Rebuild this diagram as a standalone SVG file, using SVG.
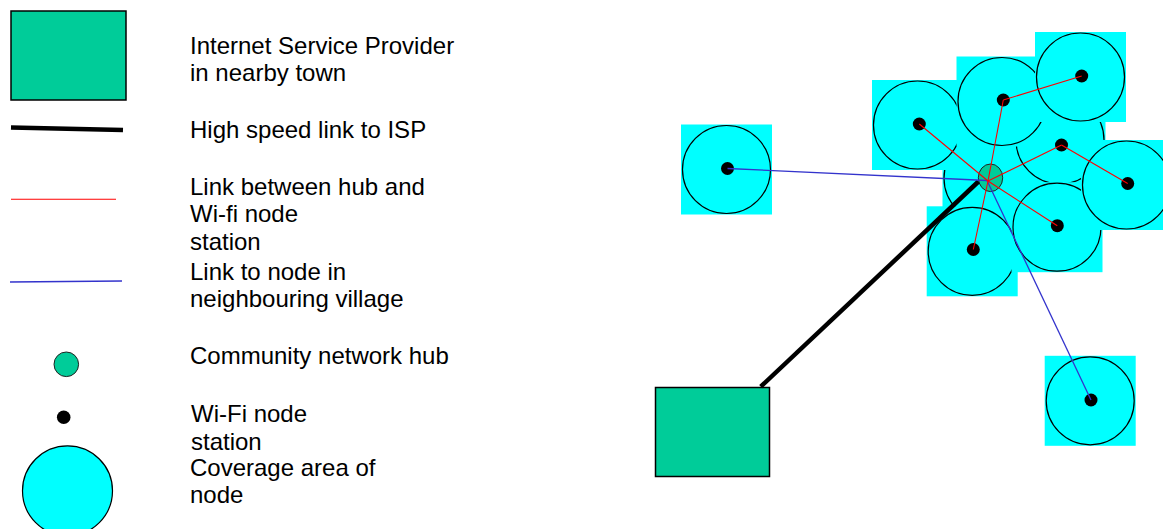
<svg xmlns="http://www.w3.org/2000/svg" xmlns:xlink="http://www.w3.org/1999/xlink" width="1163" height="529" viewBox="0 0 1163 529">
  <style>
    .bg{fill:#ffffff}
    .cov-sq{fill:#00ffff}
    .cov{fill:#00ffff;stroke:#000;stroke-width:1.2}
    .station{fill:#000}
    .hub{fill:#00cc99;stroke:#222;stroke-width:1}
    .isp{fill:#00cc99;stroke:#000;stroke-width:1.5}
    .lbl{font-family:"Liberation Sans",Arial,sans-serif;font-size:24px;fill:#000}
    .hs{stroke:#000;stroke-width:4.5;fill:none}
    .wifi{stroke:#ff0000;stroke-width:1.1;fill:none}
    .vil{stroke:#3333cc;stroke-width:1.3;fill:none}
  </style>
  <defs>
    <!-- coverage cell: cyan square backdrop with outlined circle -->
    <g id="cell">
      <rect class="cov-sq" x="-45.5" y="-45" width="91" height="90"/>
      <circle class="cov" cx="0" cy="0" r="44"/>
    </g>
  </defs>

  <rect class="bg" x="0" y="0" width="1163" height="529"/>

  <!-- Legend -->
  <g id="legend">
    <rect class="isp" x="11" y="11" width="115" height="89"/>
    <text class="lbl" x="190" y="54">Internet Service Provider</text>
    <text class="lbl" x="190" y="81">in nearby town</text>

    <line class="hs" x1="11" y1="127.5" x2="123" y2="130"/>
    <text class="lbl" x="190" y="137.5">High speed link to ISP</text>

    <line class="wifi" x1="11" y1="199.3" x2="116" y2="199.3"/>
    <text class="lbl" x="190" y="194.5">Link between hub and</text>
    <text class="lbl" x="190" y="222">Wi-fi node</text>
    <text class="lbl" x="190" y="249.5">station</text>

    <line class="vil" x1="10" y1="282" x2="122" y2="281" style="stroke-width:1.6"/>
    <text class="lbl" x="190" y="279.5">Link to node in</text>
    <text class="lbl" x="190" y="306.5">neighbouring village</text>

    <circle class="hub" cx="66.3" cy="364.3" r="12.3"/>
    <text class="lbl" x="190" y="363.5">Community network hub</text>

    <circle class="station" cx="63.7" cy="417.2" r="6.8"/>
    <text class="lbl" x="191" y="421.5">Wi-Fi node</text>
    <text class="lbl" x="191" y="449.5">station</text>

    <circle class="cov" cx="67.5" cy="490.8" r="45"/>
    <text class="lbl" x="190" y="475.5">Coverage area of</text>
    <text class="lbl" x="190" y="503">node</text>
  </g>

  <!-- ISP in nearby town -->
  <g id="isp">
    <rect class="isp" x="655.5" y="387.5" width="114" height="89"/>
  </g>

  <!-- Nodes in stacking order (later cells overlap earlier ones) -->
  <g id="hub-cell"><use xlink:href="#cell" href="#cell" x="988" y="178"/></g>
  <g id="node-mid-right">
    <use xlink:href="#cell" href="#cell" x="1060" y="140"/>
  </g>
  <g id="node-top-left">
    <use xlink:href="#cell" href="#cell" x="917.5" y="125"/>
  </g>
  <g id="node-top-middle">
    <use xlink:href="#cell" href="#cell" x="1002" y="101.5"/>
  </g>
  <g id="node-top-right">
    <use xlink:href="#cell" href="#cell" x="1080.5" y="77"/>
  </g>
  <g id="node-lower-left">
    <use xlink:href="#cell" href="#cell" x="972.2" y="251.3"/>
  </g>
  <g id="node-lower-middle">
    <use xlink:href="#cell" href="#cell" x="1057" y="227.2"/>
  </g>
  <g id="node-right">
    <use xlink:href="#cell" href="#cell" x="1126.5" y="185"/>
  </g>
  <g id="node-west-village">
    <use xlink:href="#cell" href="#cell" x="726.5" y="169.5"/>
  </g>
  <g id="node-south-village">
    <use xlink:href="#cell" href="#cell" x="1090.2" y="400.8"/>
  </g>

  <!-- Wi-Fi node stations -->
  <g id="stations">
    <circle class="station" cx="1061.5" cy="145" r="6.5"/>
    <circle class="station" cx="919.3" cy="124" r="6.5"/>
    <circle class="station" cx="1003.3" cy="100" r="6.5"/>
    <circle class="station" cx="1081.7" cy="76" r="6.5"/>
    <circle class="station" cx="973.3" cy="249.5" r="6.5"/>
    <circle class="station" cx="1057.3" cy="225.7" r="6.5"/>
    <circle class="station" cx="1127.7" cy="183.5" r="6.5"/>
    <circle class="station" cx="727.5" cy="168.5" r="6.5"/>
    <circle class="station" cx="1091" cy="400" r="6.5"/>
  </g>

  <!-- Community network hub -->
  <g id="hub">
    <ellipse class="hub" cx="990.5" cy="177.8" rx="12.2" ry="13.8"/>
  </g>

  <!-- Links -->
  <g id="connectors">
    <line class="hs" x1="760.7" y1="386.7" x2="978.5" y2="181.5"/>
    <line class="vil" x1="987" y1="180.5" x2="727.5" y2="168.5"/>
    <line class="vil" x1="987" y1="180.5" x2="1091" y2="400"/>
    <line class="wifi" x1="988" y1="181" x2="919.3" y2="124"/>
    <line class="wifi" x1="988" y1="181" x2="1003.3" y2="100"/>
    <line class="wifi" x1="1003.3" y1="100" x2="1081.7" y2="76"/>
    <line class="wifi" x1="988" y1="181" x2="1061.5" y2="145"/>
    <line class="wifi" x1="1061.5" y1="145" x2="1127.7" y2="183.5"/>
    <line class="wifi" x1="988" y1="181" x2="1057.3" y2="225.7"/>
    <line class="wifi" x1="988" y1="181" x2="973.3" y2="249.5"/>
  </g>
</svg>
